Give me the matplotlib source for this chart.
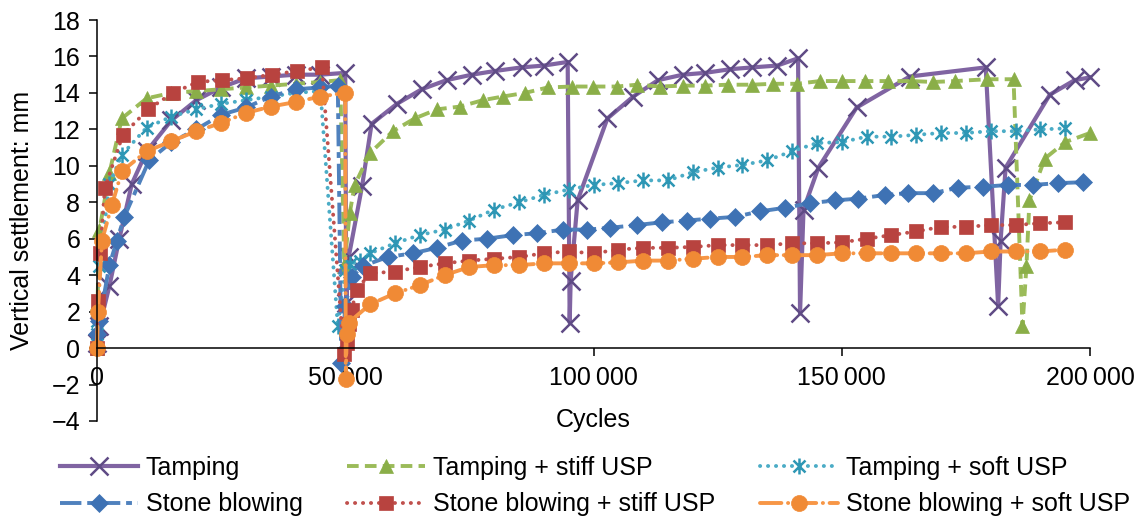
import matplotlib
matplotlib.use("Agg")
import matplotlib.pyplot as plt
from matplotlib.path import Path

plt.rcParams['font.family'] = ['Liberation Sans', 'DejaVu Sans']
plt.rcParams['font.size'] = 18

# ---------------- data (cycles, mm) ----------------
labels = ["Tamping", "Tamping + stiff USP", "Tamping + soft USP",
          "Stone blowing", "Stone blowing + stiff USP", "Stone blowing + soft USP"]

tamp_x = [0, 500, 2500, 4500, 7000, 10000, 15000, 20000, 25000, 30000, 35000, 40000, 45000, 50000,
          50200, 50700, 53400, 55300, 60400, 65400, 70400, 75500, 80100, 85500, 90000, 94800,
          95200, 95400, 96800, 102800, 108000, 113000, 118000, 122500, 127500, 132000, 137000, 141200,
          141600, 142300, 145300, 153000, 163700, 179000,
          181500, 182000, 183000, 191900, 196900, 200000]
tamp_y = [0.3, 1.2, 3.4, 6.0, 9.0, 10.8, 12.5, 13.6, 14.3, 14.8, 14.9, 15.0, 15.0, 15.1,
          2.5, 5.0, 8.9, 12.3, 13.4, 14.2, 14.7, 15.0, 15.2, 15.4, 15.5, 15.7,
          1.4, 3.7, 8.1, 12.6, 13.8, 14.7, 15.0, 15.1, 15.3, 15.4, 15.5, 15.9,
          1.9, 7.6, 9.9, 13.2, 14.9, 15.4,
          2.3, 5.9, 9.9, 13.9, 14.7, 14.85]

stiff_x = [0, 100, 500, 2500, 5000, 10000, 15000, 20000, 25000, 30000, 35000, 40000, 45000, 49000,
           49800, 50900, 51900, 55000, 59600, 64000, 68500, 73100, 77700, 81700, 86200, 90800,
           95700, 99900, 104700, 108800, 113400, 118000, 122500, 127100, 131900, 136100, 141000,
           145600, 150000, 154700, 159300, 164100, 168400, 172800, 179300, 184600,
           186400, 187200, 187800, 190900, 195000, 200000]
stiff_y = [0.0, 2.5, 6.5, 9.6, 12.6, 13.7, 14.0, 14.1, 14.2, 14.3, 14.4, 14.5, 14.6, 14.7,
           4.5, 7.4, 8.95, 10.7, 11.9, 12.6, 13.1, 13.25, 13.6, 13.8, 14.0, 14.3,
           14.35, 14.35, 14.35, 14.45, 14.35, 14.4, 14.4, 14.45, 14.45, 14.5, 14.5,
           14.65, 14.65, 14.65, 14.65, 14.65, 14.6, 14.65, 14.75, 14.75,
           1.2, 4.5, 8.1, 10.4, 11.3, 11.8]

soft_x = [0, 100, 500, 2500, 5000, 10000, 15000, 20000, 25000, 30000, 35000, 40000, 45000,
          48500, 50000, 51000, 53000, 55000, 60000, 65000, 70000, 75000, 80000, 85000, 90000,
          95000, 100000, 105000, 110000, 115000, 120000, 125000, 130000, 135000, 140000, 145000,
          150000, 155000, 160000, 165000, 170000, 175000, 180000, 185000, 190000, 195000]
soft_y = [0.8, 1.5, 4.5, 9.0, 10.6, 12.1, 12.7, 13.1, 13.4, 13.6, 13.8, 14.0, 14.1,
          1.2, 4.3, 4.6, 4.8, 5.2, 5.75, 6.2, 6.5, 7.0, 7.6, 8.0, 8.4,
          8.7, 8.95, 9.05, 9.2, 9.2, 9.65, 9.9, 10.05, 10.3, 10.8, 11.25,
          11.3, 11.6, 11.6, 11.7, 11.8, 11.8, 11.9, 11.9, 12.0, 12.05]

blow_x = [0, 500, 2500, 4000, 5500, 10500, 15000, 20000, 25000, 30000, 35000, 40000, 45000, 48500,
          49200, 50000, 51300, 53500, 58600, 63600, 68400, 73500, 78500, 83800, 88600, 93800,
          98700, 103300, 108700, 113700, 118800, 123500, 128500, 133500, 138600, 143600, 148600,
          153300, 158700, 163300, 168400, 173400, 178400, 183500, 188500, 193500, 198600]
blow_y = [0.8, 1.5, 4.55, 5.9, 7.2, 10.3, 11.3, 12.0, 12.8, 13.2, 13.8, 14.2, 14.3, 14.4,
          -0.8, 2.3, 3.9, 4.5, 5.0, 5.2, 5.5, 5.9, 6.0, 6.2, 6.3, 6.5,
          6.5, 6.6, 6.75, 6.9, 7.0, 7.1, 7.2, 7.5, 7.7, 7.95, 8.1,
          8.2, 8.4, 8.5, 8.5, 8.8, 8.85, 8.95, 8.95, 9.05, 9.1]

bstiff_x = [0, 200, 600, 1600, 5200, 10300, 15300, 20300, 25100, 30200, 35200, 40300, 45300,
            49700, 50300, 50800, 51300, 52300, 55000, 60000, 65000, 70000, 75000, 80000, 85000,
            90000, 95000, 100000, 105000, 110000, 115000, 120000, 125000, 130000, 135000, 140000,
            145000, 150000, 155000, 160000, 165000, 170000, 175000, 180000, 185000, 190000, 195000]
bstiff_y = [0.0, 2.6, 5.2, 8.8, 11.7, 13.1, 14.0, 14.6, 14.7, 14.8, 15.0, 15.2, 15.4,
            -0.3, 0.3, 1.3, 2.1, 3.2, 4.1, 4.2, 4.45, 4.65, 4.8, 4.9, 5.0,
            5.2, 5.3, 5.2, 5.4, 5.5, 5.5, 5.55, 5.65, 5.65, 5.65, 5.75,
            5.75, 5.8, 6.0, 6.2, 6.4, 6.65, 6.65, 6.75, 6.75, 6.85, 6.9]

bsoft_x = [0, 200, 1000, 3000, 5000, 10000, 15000, 20000, 25000, 30000, 35000, 40000, 45000, 50000,
           50100, 50300, 50700, 55000, 60000, 65000, 70000, 75000, 80000, 85000, 90000, 95000,
           100000, 105000, 110000, 115000, 120000, 125000, 130000, 135000, 140000, 145000, 150000,
           155000, 160000, 165000, 170000, 175000, 180000, 185000, 190000, 195000]
bsoft_y = [0.0, 2.0, 5.9, 7.85, 9.7, 10.8, 11.35, 11.9, 12.35, 12.9, 13.25, 13.5, 13.8, 14.0,
           -1.7, 0.8, 1.4, 2.4, 3.0, 3.45, 4.0, 4.45, 4.55, 4.55, 4.65, 4.65,
           4.65, 4.7, 4.8, 4.8, 4.9, 5.0, 5.0, 5.1, 5.1, 5.1, 5.2,
           5.2, 5.2, 5.2, 5.2, 5.2, 5.3, 5.3, 5.3, 5.4]

x_ticks = [0, 50000, 100000, 150000, 200000]
x_tick_labels = ["0", "50\u2009000", "100\u2009000", "150\u2009000", "200\u2009000"]
y_ticks = list(range(-4, 19, 2))

# ---------------- figure ----------------
W, H = 1138, 518
fig = plt.figure(figsize=(W / 100, H / 100), dpi=100)
ax = fig.add_axes([97 / W, 1 - 421 / H, (1090 - 97) / W, (421 - 20) / H])

star = Path([(0, -1), (0, 1), (-0.75, -0.75), (0.75, 0.75), (-0.75, 0.75), (0.75, -0.75)],
            [Path.MOVETO, Path.LINETO, Path.MOVETO, Path.LINETO, Path.MOVETO, Path.LINETO])

styles = [
    dict(color='#8064A2', lw=3.0, ls='-', marker='x', ms=12.5, mec='#5F4B85', mew=1.8),
    dict(color='#9BBB59', lw=2.8, dashes=(3.0, 1.6), marker='^', ms=10.5, mec='#8AAE48', mfc='#8AAE48', mew=0.5),
    dict(color='#4BACC6', lw=2.8, dashes=(0.05, 2.0), dash_capstyle='round', marker=star, ms=11.5,
         mec='#2E97B5', mfc='none', mew=1.8),
    dict(color='#4F81BD', lw=2.8, dashes=(5.5, 1.5, 1.5, 1.5), marker='D', ms=9.5, mec='#3E72B4', mfc='#3E72B4', mew=0.5),
    dict(color='#C0504D', lw=2.8, dashes=(0.05, 2.0), dash_capstyle='round', marker='s', ms=10,
         mec='#B8433F', mfc='#B8433F', mew=0.5),
    dict(color='#F79646', lw=2.8, dashes=(5.5, 1.7, 0.05, 1.7), dash_capstyle='round', marker='o', ms=11.5,
         mec='#F08A35', mfc='#F08A35', mew=0.5),
]
series = [(tamp_x, tamp_y), (stiff_x, stiff_y), (soft_x, soft_y),
          (blow_x, blow_y), (bstiff_x, bstiff_y), (bsoft_x, bsoft_y)]

handles = []
for (xs, ys), st, lab in zip(series, styles, labels):
    ln, = ax.plot(xs, ys, label=lab, clip_on=False, **st)
    handles.append(ln)

ax.set_xlim(0, 200000)
ax.set_ylim(-4, 18)
ax.set_xticks(x_ticks)
ax.set_xticklabels(x_tick_labels)
ax.set_yticks(y_ticks)
ax.set_yticklabels([f"{v}".replace('-', '\u2212') for v in y_ticks])

for s in ['top', 'right']:
    ax.spines[s].set_visible(False)
ax.spines['bottom'].set_position(('data', 0))
ax.spines['left'].set_linewidth(1.1)
ax.spines['bottom'].set_linewidth(1.1)
ax.tick_params(axis='both', direction='out', length=6, width=1.1, colors='black')
ax.tick_params(axis='y', pad=6)
ax.tick_params(axis='x', pad=7)

ax.set_xlabel("Cycles", labelpad=13)
ax.set_ylabel("Vertical settlement: mm", labelpad=13)

# legend laid out row-wise (matplotlib fills columns first)
order = [0, 3, 1, 4, 2, 5]
fig.legend(handles=[handles[i] for i in order], labels=[labels[i] for i in order],
           ncol=3, loc='upper left',
           bbox_to_anchor=(60 / W, 1 - 456 / H), borderaxespad=0, borderpad=0,
           frameon=False, handlelength=3.1, handletextpad=0.32, columnspacing=1.8,
           labelspacing=0.5, numpoints=1)

fig.savefig("out.png", dpi=100)
